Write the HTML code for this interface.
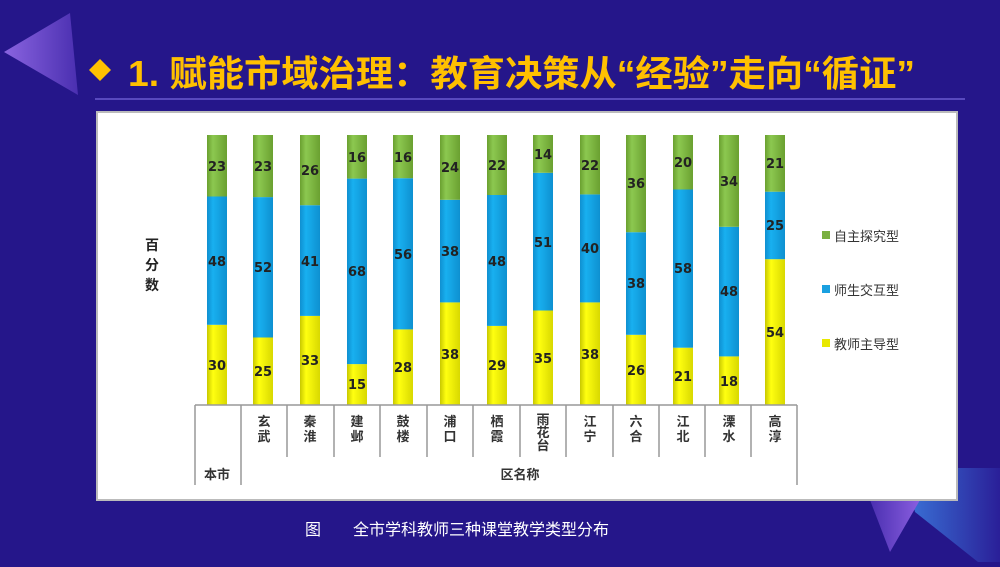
<!DOCTYPE html>
<html><head><meta charset="utf-8"><style>
html,body{margin:0;padding:0;}
body{width:1000px;height:562px;overflow:hidden;background:#25168a;}
</style></head><body>
<svg width="1000" height="562" viewBox="0 0 1000 562" xmlns="http://www.w3.org/2000/svg" font-family="Liberation Sans, Noto Sans CJK SC, sans-serif">
<defs>
<linearGradient id="lt" x1="0" y1="0" x2="1" y2="0"><stop offset="0" stop-color="#8a64e0"/><stop offset="1" stop-color="#4a2fb0"/></linearGradient>
<linearGradient id="bl" x1="0" y1="0" x2="1" y2="0"><stop offset="0" stop-color="#3a74d8"/><stop offset="1" stop-color="#2a1f98"/></linearGradient>
<linearGradient id="pt" x1="0" y1="0" x2="1" y2="0"><stop offset="0" stop-color="#4a2fb0"/><stop offset="1" stop-color="#8a5ee0"/></linearGradient>
<linearGradient id="gy" x1="0" y1="0" x2="1" y2="0"><stop offset="0" stop-color="#c8c800"/><stop offset="0.3" stop-color="#ffff10"/><stop offset="1" stop-color="#d8d800"/></linearGradient>
<linearGradient id="gb" x1="0" y1="0" x2="1" y2="0"><stop offset="0" stop-color="#0f8fd0"/><stop offset="0.3" stop-color="#18b0f0"/><stop offset="1" stop-color="#0e90d0"/></linearGradient>
<linearGradient id="gg" x1="0" y1="0" x2="1" y2="0"><stop offset="0" stop-color="#6aa030"/><stop offset="0.3" stop-color="#8cc850"/><stop offset="1" stop-color="#6aa030"/></linearGradient>
</defs>
<polygon points="4,52 70,13 78,95" fill="url(#lt)"/>
<polygon points="905,468 1000,468 1000,562 978,562 915,512" fill="url(#bl)"/>
<polygon points="870,500 920,500 890,552" fill="url(#pt)"/>
<polygon points="100,59 111,70 100,81 89,70" fill="#ffc000"/>
<text x="128" y="86" font-size="36" font-weight="bold" fill="#ffc000" textLength="787" lengthAdjust="spacingAndGlyphs">1. 赋能市域治理：教育决策从“经验”走向“循证”</text>
<line x1="95" y1="99" x2="965" y2="99" stroke="#6a5ad0" stroke-width="1.5"/>
<rect x="97" y="112" width="860" height="388" fill="#fff" stroke="#bbb" stroke-width="2"/>
<text font-size="14" font-weight="bold" fill="#222" x="145" y="250">百</text>
<text font-size="14" font-weight="bold" fill="#222" x="145" y="270">分</text>
<text font-size="14" font-weight="bold" fill="#222" x="145" y="290">数</text>
<g>
<rect x="207" y="324.8" width="20" height="80.2" fill="url(#gy)"/><rect x="207" y="196.5" width="20" height="128.3" fill="url(#gb)"/><rect x="207" y="135" width="20" height="61.5" fill="url(#gg)"/>
<rect x="253" y="337.5" width="20" height="67.5" fill="url(#gy)"/><rect x="253" y="197.1" width="20" height="140.4" fill="url(#gb)"/><rect x="253" y="135" width="20" height="62.1" fill="url(#gg)"/>
<rect x="300" y="315.9" width="20" height="89.1" fill="url(#gy)"/><rect x="300" y="205.2" width="20" height="110.7" fill="url(#gb)"/><rect x="300" y="135" width="20" height="70.2" fill="url(#gg)"/>
<rect x="347" y="364.1" width="20" height="40.9" fill="url(#gy)"/><rect x="347" y="178.6" width="20" height="185.5" fill="url(#gb)"/><rect x="347" y="135" width="20" height="43.6" fill="url(#gg)"/>
<rect x="393" y="329.4" width="20" height="75.6" fill="url(#gy)"/><rect x="393" y="178.2" width="20" height="151.2" fill="url(#gb)"/><rect x="393" y="135" width="20" height="43.2" fill="url(#gg)"/>
<rect x="440" y="302.4" width="20" height="102.6" fill="url(#gy)"/><rect x="440" y="199.8" width="20" height="102.6" fill="url(#gb)"/><rect x="440" y="135" width="20" height="64.8" fill="url(#gg)"/>
<rect x="487" y="325.9" width="20" height="79.1" fill="url(#gy)"/><rect x="487" y="195" width="20" height="130.9" fill="url(#gb)"/><rect x="487" y="135" width="20" height="60" fill="url(#gg)"/>
<rect x="533" y="310.5" width="20" height="94.5" fill="url(#gy)"/><rect x="533" y="172.8" width="20" height="137.7" fill="url(#gb)"/><rect x="533" y="135" width="20" height="37.8" fill="url(#gg)"/>
<rect x="580" y="302.4" width="20" height="102.6" fill="url(#gy)"/><rect x="580" y="194.4" width="20" height="108" fill="url(#gb)"/><rect x="580" y="135" width="20" height="59.4" fill="url(#gg)"/>
<rect x="626" y="334.8" width="20" height="70.2" fill="url(#gy)"/><rect x="626" y="232.2" width="20" height="102.6" fill="url(#gb)"/><rect x="626" y="135" width="20" height="97.2" fill="url(#gg)"/>
<rect x="673" y="347.7" width="20" height="57.3" fill="url(#gy)"/><rect x="673" y="189.5" width="20" height="158.2" fill="url(#gb)"/><rect x="673" y="135" width="20" height="54.5" fill="url(#gg)"/>
<rect x="719" y="356.4" width="20" height="48.6" fill="url(#gy)"/><rect x="719" y="226.8" width="20" height="129.6" fill="url(#gb)"/><rect x="719" y="135" width="20" height="91.8" fill="url(#gg)"/>
<rect x="765" y="259.2" width="20" height="145.8" fill="url(#gy)"/><rect x="765" y="191.7" width="20" height="67.5" fill="url(#gb)"/><rect x="765" y="135" width="20" height="56.7" fill="url(#gg)"/>
</g>
<g font-size="13" font-weight="bold" fill="#222" text-anchor="middle" font-family="DejaVu Sans, sans-serif">
<text x="217" y="370">30</text><text x="217" y="266">48</text><text x="217" y="171">23</text>
<text x="263" y="376">25</text><text x="263" y="272">52</text><text x="263" y="171">23</text>
<text x="310" y="365">33</text><text x="310" y="266">41</text><text x="310" y="175">26</text>
<text x="357" y="389">15</text><text x="357" y="276">68</text><text x="357" y="162">16</text>
<text x="403" y="372">28</text><text x="403" y="259">56</text><text x="403" y="162">16</text>
<text x="450" y="359">38</text><text x="450" y="256">38</text><text x="450" y="172">24</text>
<text x="497" y="370">29</text><text x="497" y="266">48</text><text x="497" y="170">22</text>
<text x="543" y="363">35</text><text x="543" y="247">51</text><text x="543" y="159">14</text>
<text x="590" y="359">38</text><text x="590" y="253">40</text><text x="590" y="170">22</text>
<text x="636" y="375">26</text><text x="636" y="288">38</text><text x="636" y="188">36</text>
<text x="683" y="381">21</text><text x="683" y="273">58</text><text x="683" y="167">20</text>
<text x="729" y="386">18</text><text x="729" y="296">48</text><text x="729" y="186">34</text>
<text x="775" y="337">54</text><text x="775" y="230">25</text><text x="775" y="168">21</text>
</g>
<g stroke="#999" stroke-width="1.5" fill="none">
<line x1="195" y1="405" x2="797" y2="405"/>
<line x1="195" y1="405" x2="195" y2="485"/>
<line x1="241" y1="405" x2="241" y2="485"/>
<line x1="797" y1="405" x2="797" y2="485"/>
<line x1="287" y1="405" x2="287" y2="457"/><line x1="334" y1="405" x2="334" y2="457"/><line x1="380" y1="405" x2="380" y2="457"/><line x1="427" y1="405" x2="427" y2="457"/><line x1="473" y1="405" x2="473" y2="457"/><line x1="520" y1="405" x2="520" y2="457"/><line x1="566" y1="405" x2="566" y2="457"/><line x1="613" y1="405" x2="613" y2="457"/><line x1="659" y1="405" x2="659" y2="457"/><line x1="705" y1="405" x2="705" y2="457"/><line x1="751" y1="405" x2="751" y2="457"/>
</g>
<g font-size="13" fill="#333" text-anchor="middle" font-weight="bold">
<text x="217" y="479">本市</text>
<text x="520" y="479">区名称</text>
<text x="264" y="426">玄</text><text x="264" y="441">武</text>
<text x="310" y="426">秦</text><text x="310" y="441">淮</text>
<text x="357" y="426">建</text><text x="357" y="441">邺</text>
<text x="403" y="426">鼓</text><text x="403" y="441">楼</text>
<text x="450" y="426">浦</text><text x="450" y="441">口</text>
<text x="497" y="426">栖</text><text x="497" y="441">霞</text>
<text x="543" y="424">雨</text><text x="543" y="437">花</text><text x="543" y="450">台</text>
<text x="590" y="426">江</text><text x="590" y="441">宁</text>
<text x="636" y="426">六</text><text x="636" y="441">合</text>
<text x="683" y="426">江</text><text x="683" y="441">北</text>
<text x="729" y="426">溧</text><text x="729" y="441">水</text>
<text x="775" y="426">高</text><text x="775" y="441">淳</text>
</g>
<g font-size="13" fill="#333">
<rect x="822" y="231" width="8" height="8" fill="#7ab040"/><text x="834" y="241">自主探究型</text>
<rect x="822" y="285" width="8" height="8" fill="#1aa0e0"/><text x="834" y="295">师生交互型</text>
<rect x="822" y="339" width="8" height="8" fill="#e8e800"/><text x="834" y="349">教师主导型</text>
</g>
<text x="305" y="535" font-size="16" fill="#fff">图　　全市学科教师三种课堂教学类型分布</text>
</svg>
</body></html>
